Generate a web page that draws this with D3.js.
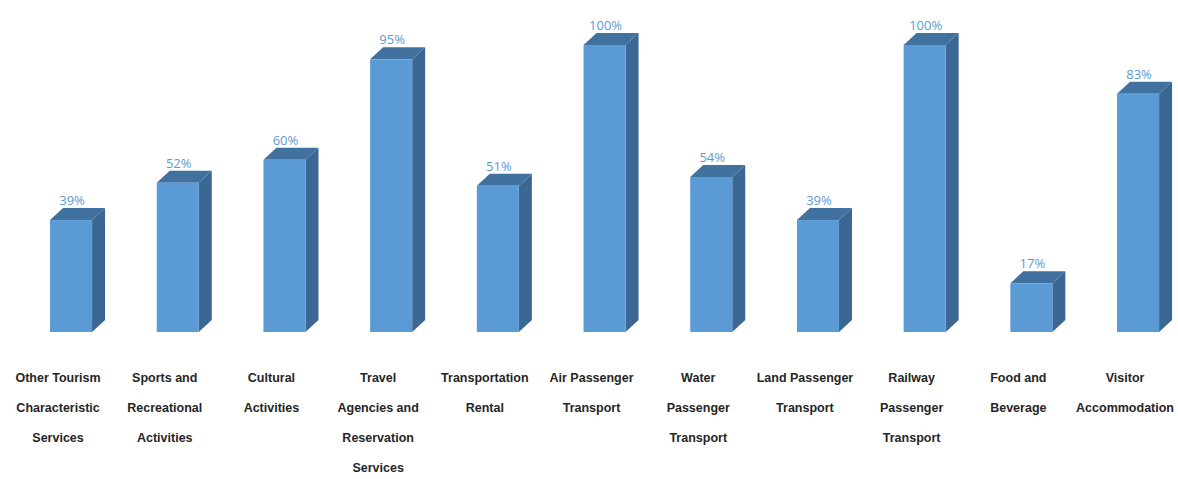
<!DOCTYPE html>
<html>
<head>
<meta charset="utf-8">
<script src="https://cdn.jsdelivr.net/npm/d3@7/dist/d3.min.js"></script>
<style>
  html, body { margin: 0; padding: 0; background: #ffffff; }
  svg { display: block; }
</style>
</head>
<body>
<svg id="chart" width="1178" height="479"></svg>
<script>
// Share of each tourism industry (percent)
const categories = [
  "Other Tourism Characteristic Services",
  "Sports and Recreational Activities",
  "Cultural Activities",
  "Travel Agencies and Reservation Services",
  "Transportation Rental",
  "Air Passenger Transport",
  "Water Passenger Transport",
  "Land Passenger Transport",
  "Railway Passenger Transport",
  "Food and Beverage",
  "Visitor Accommodation"
];
const values = [39, 52, 60, 95, 51, 100, 54, 39, 100, 17, 83];
const labelLines = [
  ["Other Tourism", "Characteristic", "Services"],
  ["Sports and", "Recreational", "Activities"],
  ["Cultural", "Activities"],
  ["Travel", "Agencies and", "Reservation", "Services"],
  ["Transportation", "Rental"],
  ["Air Passenger", "Transport"],
  ["Water", "Passenger", "Transport"],
  ["Land Passenger", "Transport"],
  ["Railway", "Passenger", "Transport"],
  ["Food and", "Beverage"],
  ["Visitor", "Accommodation"]
];

const svg = d3.select("#chart");

const x = d3.scaleBand()
  .domain(categories)
  .range([17.7, 1191.4])
  .paddingInner(0.606)
  .paddingOuter(0.303);

const y = d3.scaleLinear().domain([0, 100]).range([332, 45]);

const bw = x.bandwidth();
const dx = 13, dy = -12;   // depth offset of the 3D prism

const colFront = "#5b9bd5";
const colSide = "#3a6794";
const colTop = "#41719f";

const bars = svg.append("g").selectAll("g.bar")
  .data(categories.map((c, i) => ({ c, v: values[i], lines: labelLines[i] })))
  .join("g").attr("class", "bar");

// right side face
bars.append("path")
  .attr("fill", colSide)
  .attr("d", d => {
    const x1 = x(d.c) + bw, yt = y(d.v), yb = y(0);
    return `M${x1},${yt} L${x1 + dx},${yt + dy} L${x1 + dx},${yb + dy} L${x1},${yb} Z`;
  });

// top face
bars.append("path")
  .attr("fill", colTop)
  .attr("d", d => {
    const x0 = x(d.c), x1 = x0 + bw, yt = y(d.v);
    return `M${x0},${yt} L${x0 + dx},${yt + dy} L${x1 + dx},${yt + dy} L${x1},${yt} Z`;
  });

// front face
bars.append("rect")
  .attr("fill", colFront)
  .attr("x", d => x(d.c))
  .attr("y", d => y(d.v))
  .attr("width", bw)
  .attr("height", d => y(0) - y(d.v));

// value labels
bars.append("text")
  .attr("x", d => x(d.c) + bw / 2 + 1)
  .attr("y", d => y(d.v) + dy - 3)
  .attr("text-anchor", "middle")
  .attr("font-family", "'Open Sans', 'Liberation Sans', sans-serif")
  .attr("font-size", 13)
  .attr("fill", "#5b9bd5")
  .text(d => d.v + "%");

// category labels, one line per tspan
const cat = bars.append("text")
  .attr("text-anchor", "middle")
  .attr("font-family", "'Liberation Sans', Arial, sans-serif")
  .attr("font-weight", "bold")
  .attr("font-size", 12.5)
  .attr("fill", "#262626");

cat.selectAll("tspan")
  .data(d => d.lines.map(t => ({ t, cx: x(d.c) + bw / 2 - 13 })))
  .join("tspan")
  .attr("x", d => d.cx)
  .attr("y", (d, i) => 382 + i * 30)
  .text(d => d.t);
</script>
</body>
</html>
